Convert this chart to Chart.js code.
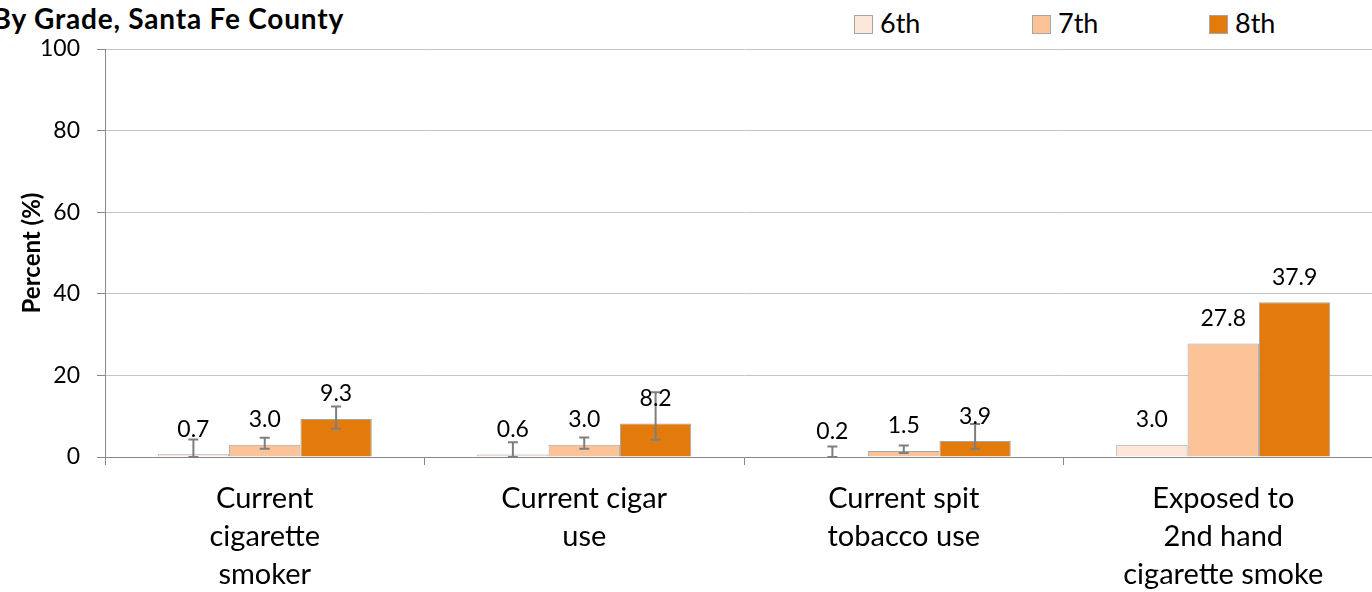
<!DOCTYPE html>
<html>
<head>
<meta charset="utf-8">
<script src="https://cdn.jsdelivr.net/npm/chart.js@4"></script>
<style>
  body { margin: 0; width: 1372px; height: 592px; overflow: hidden; background: #fff; font-family: Lato, sans-serif; position: relative; }
  #title { position: absolute; left: -8px; top: 2px; width: 352px; text-align: right; font-weight: bold; font-size: 28px; letter-spacing: 0.8px; line-height: 32px; color: #000; white-space: nowrap; }
  .legend-item { position: absolute; top: 8px; font-size: 27px; line-height: 30px; color: #000; white-space: nowrap; }
  .legend-item span.box { display: inline-block; width: 17px; height: 17px; border: 1px solid #a6a6a6; vertical-align: -1px; margin-right: 7px; }
  canvas { position: absolute; left: 0; top: 0; }
</style>
</head>
<body>
<div id="title">By Grade, Santa Fe County</div>
<div id="legend"></div>
<canvas id="tobaccoChart" width="1388" height="592"></canvas>
<script>
// tobacco use by grade
const categories = [
  ['Current', 'cigarette', 'smoker'],
  ['Current cigar', 'use'],
  ['Current spit', 'tobacco use'],
  ['Exposed to', '2nd hand', 'cigarette smoke']
];
const grades = ['6th', '7th', '8th'];
const grade6 = [0.7, 0.6, 0.2, 3.0];
const grade7 = [3.0, 3.0, 1.5, 27.8];
const grade8 = [9.3, 8.2, 3.9, 37.9];
// confidence intervals [low, high], null where none shown
const grade6Err = [[0, 4.3], [0, 3.6], [0, 2.6], null];
const grade7Err = [[2.0, 4.7], [2.0, 4.8], [1.0, 2.8], null];
const grade8Err = [[6.9, 12.4], [4.2, 15.9], [2.0, 8.1], null];
const yTicks = [0, 20, 40, 60, 80, 100];

const barColors = ['#fde7da', '#fcc399', '#e27b0b'];
const legendX = [854, 1032, 1209];

// html legend
const legendEl = document.getElementById('legend');
grades.forEach((g, i) => {
  const item = document.createElement('div');
  item.className = 'legend-item';
  item.style.left = legendX[i] + 'px';
  item.innerHTML = '<span class="box" style="background:' + barColors[i] + '"></span>' + g;
  legendEl.appendChild(item);
});

const errorBars = {
  id: 'errorBars',
  afterDatasetsDraw(chart) {
    const ctx = chart.ctx;
    const yScale = chart.scales.y;
    ctx.save();
    ctx.strokeStyle = '#7f7f7f';
    ctx.lineWidth = 2;
    chart.data.datasets.forEach((ds, di) => {
      const meta = chart.getDatasetMeta(di);
      meta.data.forEach((bar, i) => {
        const err = ds.errors[i];
        if (!err) return;
        const lo = yScale.getPixelForValue(err[0]);
        const hi = yScale.getPixelForValue(err[1]);
        ctx.beginPath();
        ctx.moveTo(bar.x, lo);
        ctx.lineTo(bar.x, hi);
        ctx.moveTo(bar.x - 5, lo);
        ctx.lineTo(bar.x + 5, lo);
        ctx.moveTo(bar.x - 5, hi);
        ctx.lineTo(bar.x + 5, hi);
        ctx.stroke();
      });
    });
    ctx.restore();
  }
};

const valueLabels = {
  id: 'valueLabels',
  afterDatasetsDraw(chart) {
    const ctx = chart.ctx;
    ctx.save();
    ctx.font = '23px Lato';
    ctx.fillStyle = '#000';
    ctx.textAlign = 'center';
    ctx.textBaseline = 'middle';
    chart.data.datasets.forEach((ds, di) => {
      chart.getDatasetMeta(di).data.forEach((bar, i) => {
        ctx.fillText(ds.data[i].toFixed(1), bar.x, bar.y - 25);
      });
    });
    ctx.restore();
  }
};

const ctx = document.getElementById('tobaccoChart').getContext('2d');
new Chart(ctx, {
  type: 'bar',
  data: {
    labels: categories,
    datasets: [
      { label: grades[0], data: grade6, errors: grade6Err, backgroundColor: barColors[0] },
      { label: grades[1], data: grade7, errors: grade7Err, backgroundColor: barColors[1] },
      { label: grades[2], data: grade8, errors: grade8Err, backgroundColor: barColors[2] }
    ].map(ds => Object.assign(ds, {
      borderColor: '#a6a6a6',
      borderWidth: 1,
      categoryPercentage: 0.67,
      barPercentage: 1.0
    }))
  },
  options: {
    responsive: false,
    animation: false,
    layout: { padding: { top: 49, right: 5, bottom: 0, left: 0 } },
    plugins: {
      legend: { display: false },
      tooltip: { enabled: false }
    },
    scales: {
      x: {
        grid: { display: true, drawOnChartArea: false, drawTicks: true, tickLength: 8, color: '#898989', offset: true },
        border: { color: '#898989', width: 1 },
        ticks: { color: '#000', font: { family: 'Lato', size: 29, lineHeight: 1.31 }, padding: 15, maxRotation: 0, autoSkip: false },
        afterFit(scale) { scale.height = 135; }
      },
      y: {
        min: 0,
        max: 100,
        afterBuildTicks(scale) { scale.ticks = yTicks.map(v => ({ value: v })); },
        grid: { color: '#c4c4c4', tickColor: '#898989', tickLength: 8 },
        border: { color: '#898989', width: 1 },
        ticks: { color: '#000', font: { family: 'Lato', size: 23 }, padding: 17 },
        title: { display: true, text: 'Percent (%)', color: '#000', font: { family: 'Lato', size: 24, weight: 'bold' }, padding: { top: 18, bottom: 0 } },
        afterFit(scale) { scale.width = 105; }
      }
    }
  },
  plugins: [errorBars, valueLabels]
});
</script>
</body>
</html>
